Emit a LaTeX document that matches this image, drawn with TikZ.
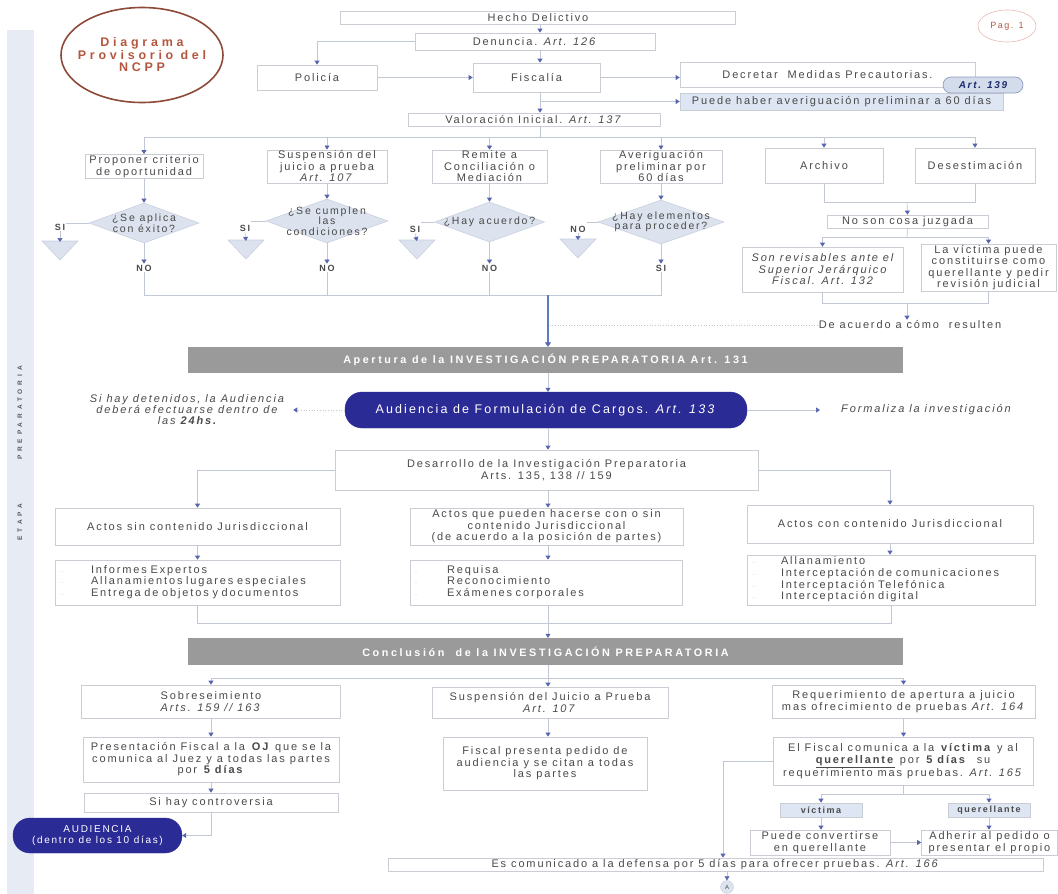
\documentclass[tikz,border=0pt]{standalone}
\usepackage{fontspec}
\setmainfont{Liberation Sans}[LetterSpace=17]
\newfontfamily\sidefont{Liberation Sans}[LetterSpace=60]
\newfontfamily\titlefont{Liberation Sans}[LetterSpace=30]
\newfontfamily\barfont{Liberation Sans}[LetterSpace=24]
\usetikzlibrary{arrows.meta,shapes.geometric,calc}
\definecolor{txt}{HTML}{4A4A4A}
\definecolor{bord}{HTML}{CACDD4}
\definecolor{lnc}{HTML}{C2C7D4}
\definecolor{arrc}{HTML}{5565B0}
\definecolor{mainb}{HTML}{5A7CC0}
\definecolor{side}{HTML}{E6EBF4}
\definecolor{dia}{HTML}{DCE3EE}
\definecolor{diab}{HTML}{C8D0E0}
\definecolor{barc}{HTML}{9A9A9A}
\definecolor{navy}{HTML}{2B2B96}
\definecolor{brwn}{HTML}{8E4A38}
\definecolor{titl}{HTML}{B5573F}
\definecolor{lb}{HTML}{DDE6F2}
\definecolor{pillf}{HTML}{D3DCEB}
\definecolor{pilld}{HTML}{8E9DC0}
\definecolor{pillt}{HTML}{1F2B6B}
\definecolor{pagc}{HTML}{E8B8B0}
\newcommand{\bul}{\textcolor{bord}{\fontsize{6}{6}\selectfont -}}
\begin{document}
\begin{tikzpicture}[x=1pt,y=-1pt,
  every node/.style={text=txt,font=\fontsize{11}{11.5}\selectfont,inner sep=1pt},
  bx/.style={draw=bord,fill=white,line width=0.7pt,align=center},
  lbx/.style={bx,fill=lb},
  dm/.style={diamond,draw=diab,fill=dia,line width=0.6pt,inner sep=0pt},
  dtxt/.style={align=center,font=\fontsize{10.5}{10.5}\selectfont},
  lab/.style={font=\bfseries\fontsize{9}{9}\selectfont},
  cn/.style={draw=lnc,line width=0.7pt},
  ar/.style={cn,-{Triangle[width=5pt,length=4pt,color=arrc]}},
  mar/.style={draw=mainb,line width=1.3pt,-{Triangle[width=6pt,length=4.5pt,color=arrc]}},
  gbar/.style={fill=barc,draw=none,text=white,font=\barfont\bfseries\fontsize{10.8}{11}\selectfont},
  navybox/.style={fill=navy,draw=navy,rounded corners=17pt,text=white,align=center},
  tri/.style={fill=dia,draw=diab,line width=0.6pt}
]
\useasboundingbox (0,0) rectangle (1058,894);
\fill[white] (0,0) rectangle (1058,894);
% side band
\fill[side] (7,30) rectangle (34,894);
\node[rotate=90,text=black!65,font=\sidefont\bfseries\fontsize{6.5}{7}\selectfont] (sp) at (20,413) {PREPARATORIA};
\node[rotate=90,text=black!65,font=\sidefont\bfseries\fontsize{6.5}{7}\selectfont] (se) at (20,522) {ETAPA};
% title
\node[draw=brwn,line width=1.6pt,ellipse,minimum width=162,minimum height=95,inner sep=0pt] (title) at (142,55) {};
\node[text=titl,align=center,font=\titlefont\bfseries\fontsize{12.5}{12.5}\selectfont] (titlet) at (title) {Diagrama\\Provisorio del\\NCPP};
\node[draw=pagc,line width=0.6pt,ellipse,minimum width=58,minimum height=32,inner sep=0pt] (pag) at (1007,26) {};
\node[text=titl,font=\fontsize{9}{9}\selectfont] (pagt) at (pag) {Pag. 1};
% top
\node[bx,minimum width=395,minimum height=13] (hecho) at (538,17.5) {Hecho Delictivo};
\node[bx,minimum width=240,minimum height=17] (den) at (535,41.5) {Denuncia. \textit{Art. 126}};
\node[bx,minimum width=120,minimum height=25] (pol) at (317,77.5) {Policía};
\node[bx,minimum width=127,minimum height=29] (fis) at (536.5,77.5) {Fiscalía};
\node[bx,minimum width=295,minimum height=25] (dec) at (827.5,74.5) {Decretar\ \ Medidas Precautorias.};
\node[lbx,minimum width=323,minimum height=17] (pue) at (841.5,101.5) {Puede haber averiguación preliminar a 60 días};
\node[draw=pilld,fill=pillf,line width=0.7pt,rounded corners=8pt,minimum width=80,minimum height=16,text=pillt,font=\bfseries\itshape\fontsize{10}{10}\selectfont] (a139) at (983,85) {Art. 139};
\node[bx,minimum width=252,minimum height=13] (val) at (534,119.5) {Valoración Inicial. \textit{Art. 137}};
\coordinate (jp) at (540,101.5);
\draw[ar] (hecho.south -| 540,0) -- (den.north -| 540,0);
\draw[ar] (den.west) -| (pol.north);
\draw[ar] (den.south -| 540,0) -- (fis.north -| 540,0);
\draw[ar] (pol.east) -- (fis.west);
\draw[ar] (fis.east) -- (fis.east -| dec.west);
\draw[ar] (fis.south -| 540,0) -- (val.north -| 540,0);
\draw[ar] (jp) -- (pue.west);
% row 1
\node[bx,minimum width=118,minimum height=24] (prop) at (144,166.5) {Proponer criterio\\de oportunidad};
\node[bx,minimum width=120,minimum height=33] (susp) at (327,166.5) {Suspensión del\\juicio a prueba\\\textit{Art. 107}};
\node[bx,minimum width=115,minimum height=33] (rem) at (489.5,166.5) {Remite a\\Conciliación o\\Mediación};
\node[bx,minimum width=122,minimum height=33] (ave) at (661,166.5) {Averiguación\\preliminar por\\60 días};
\node[bx,minimum width=118,minimum height=35] (arch) at (824,165.5) {Archivo};
\node[bx,minimum width=120,minimum height=35] (dese) at (975,165.5) {Desestimación};
\coordinate (h1) at (540,137);
\draw[cn] (val.south -| h1) -- (h1);
\draw[cn] (prop.north |- h1) -- (dese.north |- h1);
\foreach \n in {prop,susp,rem,ave,arch,dese} \draw[ar] (\n.north |- h1) -- (\n.north);
% diamonds
\node[dm,minimum width=110,minimum height=40] (d1) at (144,223) {};
\node[dtxt] (d1t) at (d1) {¿Se aplica\\con éxito?};
\node[dm,minimum width=122,minimum height=44] (d2) at (327,221) {};
\node[dtxt] (d2t) at (d2) {¿Se cumplen\\las\\condiciones?};
\node[dm,minimum width=110,minimum height=40] (d3) at (489.5,222) {};
\node[dtxt] (d3t) at (d3) {¿Hay acuerdo?};
\node[dm,minimum width=126,minimum height=44] (d4) at (661,222) {};
\node[dtxt] (d4t) at (d4) {¿Hay elementos\\para proceder?};
\draw[ar] (prop.south) -- (d1.north);
\draw[ar] (susp.south) -- (d2.north);
\draw[ar] (rem.south) -- (d3.north);
\draw[ar] (ave.south) -- (d4.north);
% side exits
\node[lab] (s1) at (60,227) {SI};
\node[lab] (s2) at (245,228) {SI};
\node[lab] (s3) at (415,229) {SI};
\node[lab] (s4) at (578,229) {NO};
\coordinate (t1) at (60,250);
\coordinate (t2) at (246,249);
\coordinate (t3) at (417,249);
\coordinate (t4) at (578,248);
\foreach \d/\s/\t in {d1/s1/t1,d2/s2/t2,d3/s3/t3,d4/s4/t4}{
  \draw[cn] (\d.west) -- (\d.west -| \s.east);
  \filldraw[tri] ($(\t)+(-18,-9)$) -- ($(\t)+(18,-9)$) -- ($(\t)+(0,10)$) -- cycle;
  \draw[ar] (\s.south) -- ($(\t)+(0,-8)$);
}
\node[lab] (n1) at (144,268) {NO};
\node[lab] (n2) at (327,268) {NO};
\node[lab] (n3) at (489.5,268) {NO};
\node[lab] (n4) at (661,268) {SI};
\draw[ar] (d1.south) -- (n1.north);
\draw[ar] (d2.south) -- (n2.north);
\draw[ar] (d3.south) -- (n3.north);
\draw[ar] (d4.south) -- (n4.north);
\coordinate (j2) at (548,295);
\draw[cn] (n1.south) -- (n1.south |- j2) -- (n4.south |- j2) -- (n4.south);
\draw[cn] (n2.south) -- (n2.south |- j2);
\draw[cn] (n3.south) -- (n3.south |- j2);
% right cluster
\node[bx,minimum width=161,minimum height=13] (noson) at (907.5,221.5) {No son cosa juzgada};
\node[bx,minimum width=161,minimum height=45,font=\itshape\fontsize{11}{11.5}\selectfont] (rev) at (822.5,269.5) {Son revisables ante el\\Superior Jerárquico\\Fiscal. Art. 132};
\node[bx,minimum width=135,minimum height=45] (vic) at (988.5,267.5) {La víctima puede\\constituirse como\\querellante y pedir\\revisión judicial};
\node (deac) at (910,325) {De acuerdo a cómo\ \ resulten};
\coordinate (jr1) at (907,202);
\coordinate (jr2) at (907,237);
\coordinate (jr3) at (907,303);
\draw[cn] (arch.south) -- (arch.south |- jr1) -- (dese.south |- jr1) -- (dese.south);
\draw[ar] (jr1) -- (noson.north);
\draw[cn] (noson.south) -- (jr2);
\draw[cn] (rev.north |- jr2) -- (vic.north |- jr2);
\draw[ar] (rev.north |- jr2) -- (rev.north);
\draw[ar] (vic.north |- jr2) -- (vic.north);
\draw[cn] (rev.south) -- (rev.south |- jr3) -- (vic.south |- jr3) -- (vic.south);
\draw[ar] (jr3) -- (deac.north -| jr3);
\draw[cn,dotted] (deac.west) -- (deac.west -| j2);
% apertura
\node[gbar,minimum width=715,minimum height=26] (bar1) at (545.5,360) {Apertura de la INVESTIGACIÓN PREPARATORIA Art. 131};
\draw[mar] (j2) -- (j2 |- bar1.north);
\node[navybox,minimum width=402,minimum height=36,font=\fontsize{12.5}{13}\selectfont] (aud) at (546,410) {Audiencia de Formulación de Cargos. \textit{Art. 133}};
\draw[ar] (bar1.south -| j2) -- (aud.north -| j2);
\node[align=center,font=\itshape\fontsize{11}{11}\selectfont] (lnote) at (187,410) {Si hay detenidos, la Audiencia\\deberá efectuarse dentro de\\las \textbf{24hs.}};
\draw[cn,dotted,-{Triangle[width=5pt,length=4pt,color=arrc]}] (aud.west) -- ([xshift=8]lnote.east);
\node[anchor=west,font=\itshape\fontsize{11}{11}\selectfont] (rnote) at (840,410) {Formaliza la investigación};
\draw[ar] (aud.east) -- ([xshift=-20]rnote.west);
% desarrollo
\node[bx,minimum width=423,minimum height=40] (des) at (546.5,470) {Desarrollo de la Investigación Preparatoria\\Arts. 135, 138 // 159};
\draw[ar] (aud.south -| j2) -- (des.north -| j2);
\node[bx,minimum width=285,minimum height=37] (sin) at (197.5,526.5) {Actos sin contenido Jurisdiccional};
\node[bx,minimum width=273,minimum height=37] (que) at (546.5,526.5) {Actos que pueden hacerse con o sin\\contenido Jurisdiccional\\(de acuerdo a la posición de partes)};
\node[bx,minimum width=286,minimum height=38] (con) at (890,524) {Actos con contenido Jurisdiccional};
\draw[ar] (des.west) -| (sin.north);
\draw[ar] (des.south -| j2) -- (que.north -| j2);
\draw[ar] (des.east) -| (con.north);
\node[bx,minimum width=285,minimum height=45,text width=273,align=left] (l1) at (197.5,582.5) {\begin{tabular}{@{}p{30pt}@{}l@{}}\bul&Informes Expertos\\\bul&Allanamientos lugares especiales\\\bul&Entrega de objetos y documentos\end{tabular}};
\node[bx,minimum width=272,minimum height=45,text width=262,align=left] (l2) at (546,582.5) {\begin{tabular}{@{}p{32pt}@{}l@{}}\bul&Requisa\\\bul&Reconocimiento\\\bul&Exámenes corporales\end{tabular}};
\node[bx,minimum width=288,minimum height=50,text width=276,align=left] (l3) at (891,580) {\begin{tabular}{@{}p{28pt}@{}l@{}}\bul&Allanamiento\\\bul&Interceptación de comunicaciones\\\bul&Interceptación Telefónica\\\bul&Interceptación digital\end{tabular}};
\draw[ar] (sin.south) -- (l1.north);
\draw[ar] (que.south -| j2) -- (l2.north -| j2);
\draw[ar] (con.south) -- (con.south |- l3.north);
\coordinate (j4) at (548,623);
\draw[cn] (l1.south) |- (j4);
\draw[cn] (l3.south) |- (j4);
% conclusion
\node[gbar,minimum width=715,minimum height=27] (bar2) at (545.5,651.5) {Conclusión\ \ de la INVESTIGACIÓN PREPARATORIA};
\draw[ar] (l2.south -| j4) -- (bar2.north -| j4);
\node[bx,minimum width=259,minimum height=33] (sob) at (211,701.5) {Sobreseimiento\\\textit{Arts. 159 // 163}};
\node[bx,minimum width=236,minimum height=31] (susp2) at (550,702.5) {Suspensión del Juicio a Prueba\\\textit{Art. 107}};
\node[bx,minimum width=263,minimum height=33] (req) at (903.5,701.5) {Requerimiento de apertura a juicio\\mas ofrecimiento de pruebas \textit{Art. 164}};
\coordinate (j5) at (548,678);
\draw[cn] (sob.north |- j5) -- (req.north |- j5);
\draw[ar] (bar2.south -| j5) -- (susp2.north -| j5);
\draw[ar] (sob.north |- j5) -- (sob.north);
\draw[ar] (req.north |- j5) -- (req.north);
\node[bx,minimum width=256,minimum height=45] (pres) at (211,759.5) {Presentación Fiscal a la \textbf{OJ} que se la\\comunica al Juez y a todas las partes\\por \textbf{5 días}};
\node[bx,minimum width=254,minimum height=19] (sihay) at (211,802.5) {Si hay controversia};
\node[navybox,minimum width=169,minimum height=35,font=\fontsize{10}{10.5}\selectfont] (aud2) at (97.5,835.5) {AUDIENCIA\\(dentro de los 10 días)};
\draw[ar] (sob.south) -- (pres.north);
\draw[ar] (pres.south) -- (sihay.north);
\draw[ar] (sihay.south) |- (aud2.east);
\node[bx,minimum width=204,minimum height=53] (fpres) at (545,763.5) {Fiscal presenta pedido de\\audiencia y se citan a todas\\las partes};
\draw[ar] (susp2.south -| j5) -- (fpres.north -| j5);
\node[bx,minimum width=260,minimum height=48] (elf) at (903,761) {El Fiscal comunica a la \textbf{víctima} y al\\\underline{\textbf{querellante}} por \textbf{5 días}\ \ su\\requerimiento mas pruebas. \textit{Art. 165}};
\draw[ar] (req.south) -- (req.south |- elf.north);
\node[lbx,minimum width=82,minimum height=14,font=\bfseries\fontsize{9}{9}\selectfont] (vict) at (821,810) {víctima};
\node[lbx,minimum width=82,minimum height=14,font=\bfseries\fontsize{9}{9}\selectfont] (quer) at (989,810) {querellante};
\coordinate (j6) at (903,794);
\draw[cn] (elf.south -| j6) -- (j6);
\draw[cn] (vict.north |- j6) -- (quer.north |- j6);
\draw[ar] (vict.north |- j6) -- (vict.north);
\draw[ar] (quer.north |- j6) -- (quer.north);
\node[bx,minimum width=140,minimum height=25] (conv) at (820,842.5) {Puede convertirse\\en querellante};
\node[bx,minimum width=136,minimum height=25] (adh) at (989.5,842.5) {Adherir al pedido o\\presentar el propio};
\draw[ar] (vict.south) -- (vict.south |- conv.north);
\draw[ar] (quer.south) -- (quer.south |- adh.north);
\draw[ar] (conv.east) -- (adh.west);
\node[bx,minimum width=655,minimum height=13] (es) at (715.5,864.5) {Es comunicado a la defensa por 5 días para ofrecer pruebas. \textit{Art. 166}};
\coordinate (j7) at (723,761);
\draw[ar] (elf.west) -- (j7) -- (j7 |- es.north);
\node[circle,draw=diab,fill=dia,minimum size=13,inner sep=0pt,font=\fontsize{6}{6}\selectfont] (cA) at (727,887) {A};
\draw[ar] (es.south -| cA) -- (cA.north);
\end{tikzpicture}
\end{document}
